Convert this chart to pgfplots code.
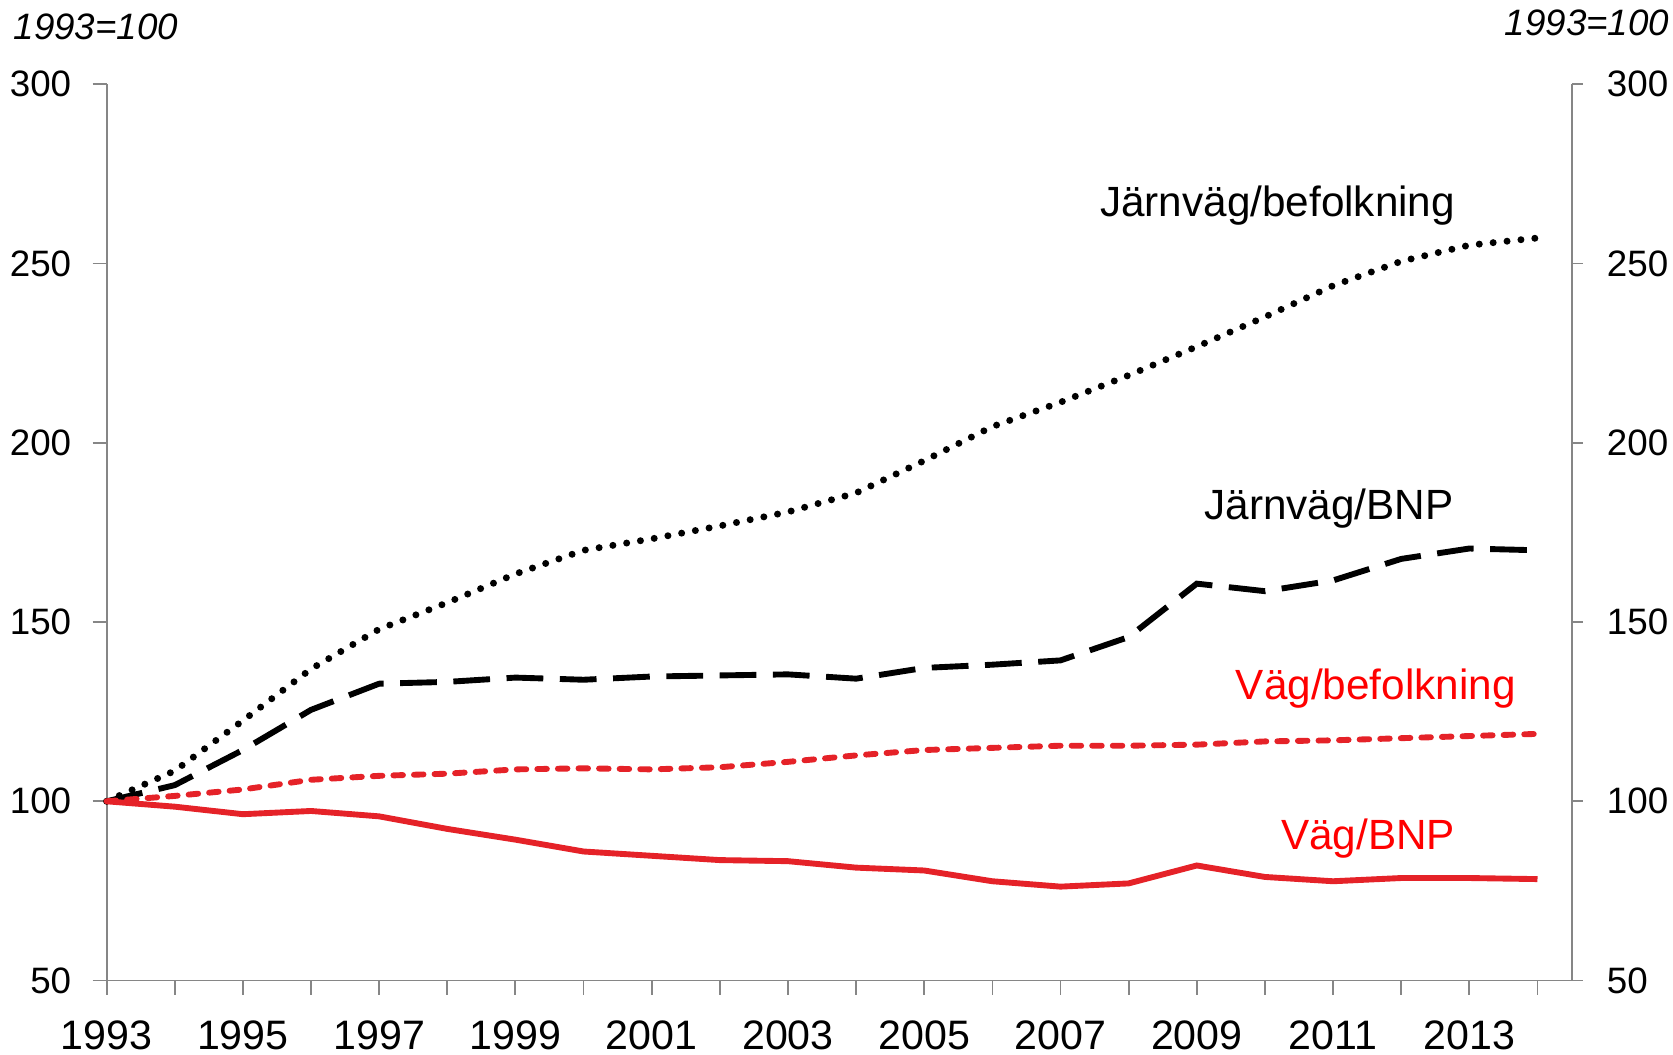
\documentclass[border=0pt]{standalone}
\usepackage{fontspec}
\setmainfont{Liberation Sans}
\usepackage{pgfplots}
\usepackage{pgfplotstable}
\pgfplotsset{compat=1.18}
\definecolor{lineRed}{HTML}{E52228}
\definecolor{axGrey}{HTML}{868686}

% index, 1993=100
\pgfplotstableread{
year  jbef   jbnp   vbef   vbnp
1993  100.0  100.0  100.0  100.0
1994  108.5  104.5  101.5  98.5
1995  122.5  114.3  103.3  96.4
1996  136.9  125.5  106.0  97.3
1997  148.0  132.8  107.1  95.8
1998  155.4  133.3  107.7  92.3
1999  163.4  134.5  108.9  89.3
2000  170.0  133.9  109.2  86.0
2001  173.2  134.8  108.9  84.8
2002  176.8  135.1  109.5  83.6
2003  180.7  135.4  111.0  83.3
2004  186.0  134.2  112.8  81.5
2005  195.0  137.2  114.3  80.7
2006  204.5  138.1  114.9  77.7
2007  211.3  139.3  115.5  76.2
2008  218.8  145.8  115.5  77.1
2009  226.8  160.7  115.8  82.1
2010  235.1  158.6  116.7  78.9
2011  243.8  161.6  117.0  77.7
2012  250.6  167.6  117.6  78.6
2013  255.1  170.5  118.2  78.6
2014  257.1  170.0  118.8  78.3
}\datatable

\pgfplotsset{
  base/.style={
    width=398.6pt, height=243.9pt, scale only axis,
    xmin=1993, xmax=2014.5, ymin=50, ymax=300,
    ytick={50,100,...,300},
    axis line style={axGrey, line width=0.5pt},
    tick style={axGrey, line width=0.5pt},
    tick align=outside,
    /pgf/number format/assume math mode=true,
    /pgf/number format/1000 sep={},
    yticklabel style={font=\fontsize{10}{12}\selectfont},
  },
}

\begin{document}
\begin{tikzpicture}
\begin{axis}[
  base,
  axis x line*=bottom, axis y line*=left,
  xtick={1993,1995,...,2013},
  minor xtick={1994,1996,...,2014},
  major tick length=3.8pt, minor tick length=3.8pt,
  xticklabel style={font=\fontsize{11.2}{13}\selectfont, yshift=-3.5pt},
  yticklabel style={xshift=-2.3pt},
  clip=false,
]
\addplot[black, line width=1.9pt, line cap=round, dash pattern=on 0pt off 3.8pt]
  table[x=year, y=jbef] {\datatable};
\addplot[black, line width=1.6pt, dash pattern=on 10pt off 4.5pt]
  table[x=year, y=jbnp] {\datatable};
\addplot[lineRed, line width=1.6pt, line cap=round, dash pattern=on 2.6pt off 3pt]
  table[x=year, y=vbef] {\datatable};
\addplot[lineRed, line width=1.6pt]
  table[x=year, y=vbnp] {\datatable};

\node[anchor=base east, inner sep=0pt, font=\fontsize{11.5}{14}\selectfont]
  at (axis cs:2012.80,263.1) {Järnväg/befolkning};
\node[anchor=base east, inner sep=0pt, font=\fontsize{11.5}{14}\selectfont]
  at (axis cs:2012.78,178.5) {Järnväg/BNP};
\node[anchor=base east, inner sep=0pt, text=red, font=\fontsize{11.5}{14}\selectfont]
  at (axis cs:2013.69,128.3) {Väg/befolkning};
\node[anchor=base east, inner sep=0pt, text=red, font=\fontsize{11.5}{14}\selectfont]
  at (axis cs:2012.80,86.6) {Väg/BNP};
\end{axis}

\begin{axis}[
  base,
  axis x line=none, axis y line*=right,
  major tick length=3.1pt,
  yticklabel style={xshift=3pt},
]
\end{axis}

\node[anchor=base west, inner sep=0pt, font=\fontsize{10}{12}\selectfont\itshape]
  at ([xshift=-25.5pt, yshift=12.2pt]current axis.north west) {1993=100};
\node[anchor=base east, inner sep=0pt, font=\fontsize{10}{12}\selectfont\itshape]
  at ([xshift=26.8pt, yshift=13.3pt]current axis.north east) {1993=100};
\pgfresetboundingbox
\path[use as bounding box] ([xshift=-29pt, yshift=-20pt]current axis.south west)
  rectangle ([xshift=27.6pt, yshift=22.9pt]current axis.north east);
\end{tikzpicture}
\end{document}
